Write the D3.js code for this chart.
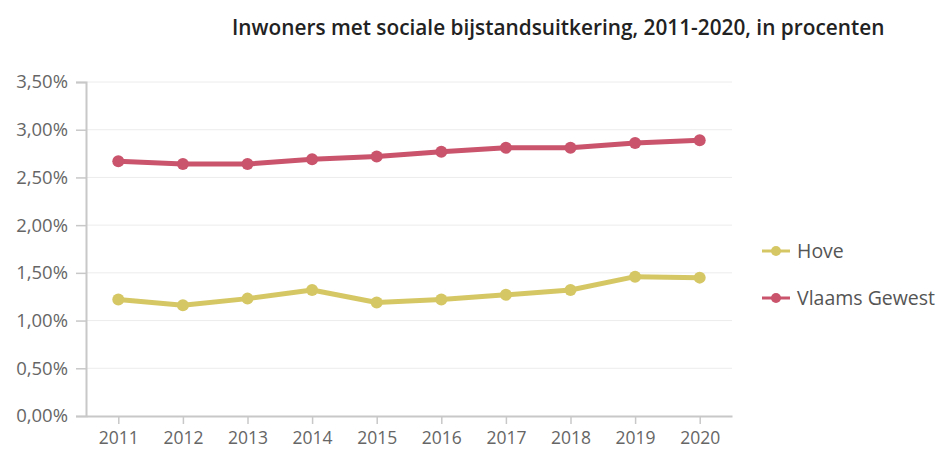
<!DOCTYPE html>
<html>
<head>
<meta charset="utf-8">
<script src="https://cdn.jsdelivr.net/npm/d3@7"></script>
<style>
  html, body { margin: 0; padding: 0; background: #fff; }
  svg { display: block; }
</style>
</head>
<body>
<svg id="chart" width="938" height="450"></svg>
<script>
const title = "Inwoners met sociale bijstandsuitkering, 2011-2020, in procenten";
const years = ["2011","2012","2013","2014","2015","2016","2017","2018","2019","2020"];
const hove = [1.22, 1.16, 1.23, 1.32, 1.19, 1.22, 1.27, 1.32, 1.46, 1.45];
const vlaams = [2.67, 2.64, 2.64, 2.69, 2.72, 2.77, 2.81, 2.81, 2.86, 2.89];
const seriesNames = ["Hove", "Vlaams Gewest"];
const seriesColors = ["#d6c765", "#c9546c"];
const yTicks = [0, 0.5, 1, 1.5, 2, 2.5, 3, 3.5];

const svg = d3.select("#chart");
const mLeft = 86, mRight = 732, mTop = 82, mBottom = 416;

const x = d3.scalePoint().domain(years).range([mLeft, mRight]).padding(0.5);
const y = d3.scaleLinear().domain([0, 3.5]).range([mBottom, mTop]);
const fmt = v => d3.format(".2f")(v).replace(".", ",") + "%";

// title
svg.append("text")
  .attr("x", 232).attr("y", 35)
  .attr("font-family", "Open Sans, sans-serif")
  .attr("font-weight", 600)
  .attr("font-size", 20.8)
  .attr("fill", "#222")
  .text(title);

// gridlines
svg.append("g").selectAll("line").data(yTicks.filter(d => d > 0)).join("line")
  .attr("x1", mLeft).attr("x2", mRight)
  .attr("y1", d => y(d)).attr("y2", d => y(d))
  .attr("stroke", "#ececec").attr("stroke-width", 1);

// y axis
const yAxis = svg.append("g").attr("transform", `translate(${mLeft},0)`)
  .call(d3.axisLeft(y).tickValues(yTicks).tickFormat(fmt).tickSize(10).tickPadding(8));
yAxis.select(".domain").attr("stroke", "#c8c8c8").attr("stroke-width", 2);
yAxis.selectAll(".tick line").attr("stroke", "#c8c8c8").attr("stroke-width", 1.5);
yAxis.selectAll("text").attr("font-family", "Open Sans, sans-serif").attr("font-size", 18.5).attr("fill", "#666");

// x axis
const xAxis = svg.append("g").attr("transform", `translate(0,${mBottom})`)
  .call(d3.axisBottom(x).tickSize(8).tickPadding(8).tickSizeOuter(0));
xAxis.select(".domain").attr("stroke", "#c8c8c8").attr("stroke-width", 2);
xAxis.selectAll(".tick line").attr("stroke", "#c8c8c8").attr("stroke-width", 1.5);
xAxis.selectAll("text").attr("font-family", "Open Sans, sans-serif").attr("font-size", 17.5).attr("fill", "#666");

// lines
const data = [hove, vlaams];
const line = d3.line().x((d, i) => x(years[i])).y(d => y(d));
data.forEach((vals, k) => {
  svg.append("path").datum(vals)
    .attr("d", line)
    .attr("fill", "none")
    .attr("stroke", seriesColors[k])
    .attr("stroke-width", 5)
    .attr("stroke-linejoin", "round");
  svg.append("g").selectAll("circle").data(vals).join("circle")
    .attr("cx", (d, i) => x(years[i])).attr("cy", d => y(d))
    .attr("r", 6).attr("fill", seriesColors[k]);
});

// legend
const legend = svg.append("g");
seriesNames.forEach((name, k) => {
  const ly = 251 + k * 47;
  legend.append("line").attr("x1", 762).attr("x2", 790).attr("y1", ly).attr("y2", ly)
    .attr("stroke", seriesColors[k]).attr("stroke-width", 3);
  legend.append("circle").attr("cx", 776).attr("cy", ly).attr("r", 5).attr("fill", seriesColors[k]);
  legend.append("text").attr("x", 797).attr("y", ly + 7)
    .attr("font-family", "Open Sans, sans-serif").attr("font-size", 19.5).attr("fill", "#555")
    .text(name);
});
</script>
</body>
</html>
